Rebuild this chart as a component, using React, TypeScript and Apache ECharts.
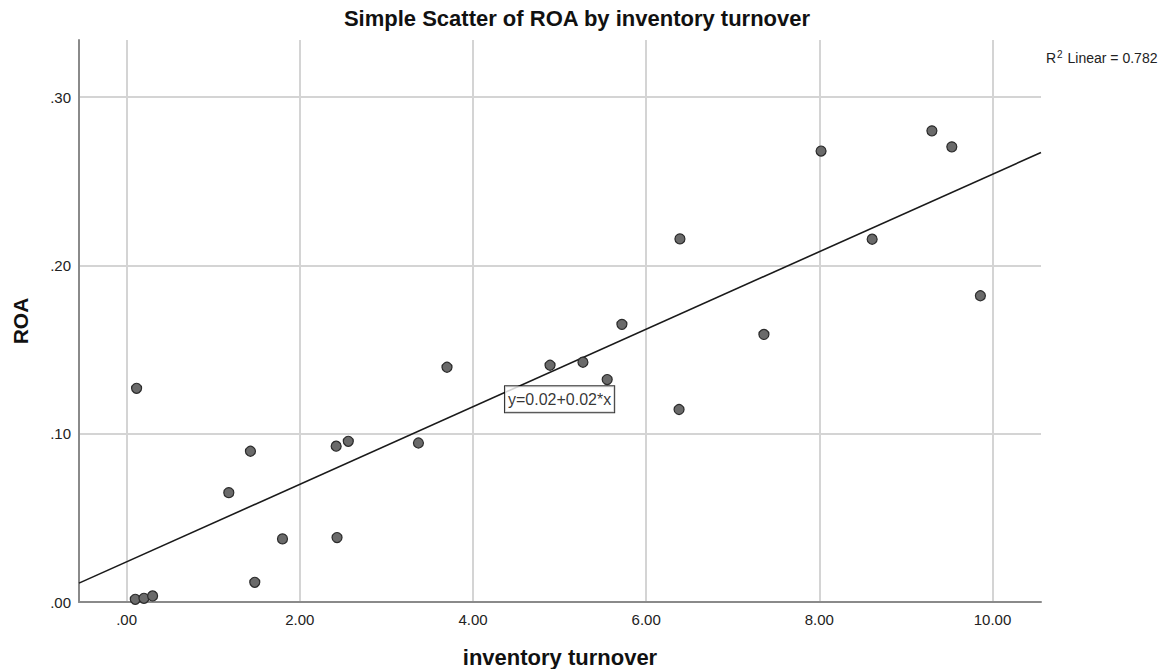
import React, { useEffect, useRef } from "react";
import * as echarts from "echarts";

// Inventory turnover (x) and ROA (y) for each case
const turnover = [
  0.1, 0.2, 0.3, 0.115, 1.18, 1.43, 1.48, 1.8, 2.42, 2.43, 2.56, 3.37, 3.7,
  4.89, 5.27, 5.55, 5.72, 6.38, 6.39, 7.36, 8.02, 8.61, 9.3, 9.53, 9.86,
];
const roa = [
  0.0016, 0.0022, 0.0036, 0.127, 0.065, 0.0896, 0.0117, 0.0375, 0.0926,
  0.0383, 0.0955, 0.0945, 0.1395, 0.1407, 0.1425, 0.1322, 0.165, 0.1144,
  0.2158, 0.159, 0.268, 0.2156, 0.28, 0.2705, 0.182,
];

const xTicks = [0, 2, 4, 6, 8, 10];
const yTicks = [0, 0.1, 0.2, 0.3];
const xRange = [-0.55, 10.56];
const yRange = [0, 0.334];

const titleText = "Simple Scatter of ROA by inventory turnover";
const xTitle = "inventory turnover";
const yTitle = "ROA";
const fitLabel = "y=0.02+0.02*x";
const fitLabelAnchor = [5.0, 0.1205];
const r2Text = "0.782";

// Ordinary least-squares fit of ROA on turnover
function linearFit(xs: number[], ys: number[]) {
  const n = xs.length;
  const mx = xs.reduce((a, b) => a + b, 0) / n;
  const my = ys.reduce((a, b) => a + b, 0) / n;
  let sxy = 0;
  let sxx = 0;
  for (let i = 0; i < n; i++) {
    sxy += (xs[i] - mx) * (ys[i] - my);
    sxx += (xs[i] - mx) * (xs[i] - mx);
  }
  const slope = sxy / sxx;
  return { slope, intercept: my - slope * mx };
}

const fmt = (v: number) => v.toFixed(2).replace(/^0/, "");

export default function App() {
  const ref = useRef<HTMLDivElement>(null);

  useEffect(() => {
    if (!ref.current) return;
    const chart = echarts.init(ref.current, undefined, { renderer: "svg" });
    const { slope, intercept } = linearFit(turnover, roa);
    const fitData = xRange.map((x) => [x, intercept + slope * x]);
    const points = turnover.map((x, i) => [x, roa[i]]);
    const font = "'Liberation Sans', Arial, sans-serif";

    chart.setOption({
      animation: false,
      backgroundColor: "#ffffff",
      textStyle: { fontFamily: font },
      title: [
        {
          text: titleText,
          left: 572,
          top: 2,
          textAlign: "center",
          textStyle: { fontSize: 22, fontWeight: "bold", color: "#111", fontFamily: font },
        },
        {
          text: "{r|R}{s|2}{r| Linear = " + r2Text + "}",
          left: 1041,
          top: 44,
          textStyle: {
            fontFamily: font,
            fontWeight: "normal",
            rich: {
              r: { fontSize: 14, fontWeight: "normal", color: "#222", fontFamily: font, lineHeight: 18 },
              s: { fontSize: 10, fontWeight: "normal", color: "#222", fontFamily: font, verticalAlign: "top", lineHeight: 18, padding: [0, 1, 0, 1] },
            },
          },
        },
      ],
      grid: { left: 79, top: 40, right: 119, bottom: 67, outerBoundsMode: "none", containLabel: false },
      xAxis: {
        type: "value",
        min: xRange[0],
        max: xRange[1],
        name: xTitle,
        nameLocation: "middle",
        nameGap: 44,
        nameTextStyle: { fontSize: 22, fontWeight: "bold", color: "#111", fontFamily: font },
        axisLine: { show: true, onZero: false, lineStyle: { color: "#8a8a8a", width: 2 } },
        axisTick: { show: false, customValues: xTicks },
        axisLabel: {
          customValues: xTicks,
          formatter: fmt,
          fontSize: 15,
          color: "#222",
          margin: 10,
        },
        splitLine: { show: true, lineStyle: { color: "#d4d4d4", width: 2 } },
      },
      yAxis: {
        type: "value",
        min: yRange[0],
        max: yRange[1],
        name: yTitle,
        nameLocation: "middle",
        nameGap: 48,
        nameTextStyle: { fontSize: 21, fontWeight: "bold", color: "#111", fontFamily: font },
        axisLine: { show: true, onZero: false, lineStyle: { color: "#8a8a8a", width: 2 } },
        axisTick: { show: false, customValues: yTicks },
        axisLabel: {
          customValues: yTicks,
          formatter: fmt,
          fontSize: 15,
          color: "#222",
          margin: 8,
        },
        splitLine: { show: true, lineStyle: { color: "#d4d4d4", width: 2 } },
      },
      series: [
        {
          type: "line",
          data: fitData,
          showSymbol: false,
          symbol: "none",
          lineStyle: { color: "#1a1a1a", width: 1.6 },
          z: 3,
          silent: true,
        },
        {
          type: "scatter",
          data: points,
          symbol: "circle",
          symbolSize: 10,
          itemStyle: { color: "#6a6a6a", borderColor: "#2b2b2b", borderWidth: 1.2, opacity: 1 },
          z: 4,
        },
        {
          type: "scatter",
          data: [fitLabelAnchor],
          symbolSize: 0,
          z: 5,
          silent: true,
          label: {
            show: true,
            position: "inside",
            formatter: fitLabel,
            fontSize: 16,
            color: "#000",
            fontFamily: font,
            backgroundColor: "#ffffff",
            borderColor: "#000",
            borderWidth: 1,
            padding: [5, 3, 5, 3],
          },
        },
      ],
    });

    return () => chart.dispose();
  }, []);

  return (
    <div
      ref={ref}
      style={{ position: "fixed", left: 0, top: 0, width: 1160, height: 669 }}
    />
  );
}
